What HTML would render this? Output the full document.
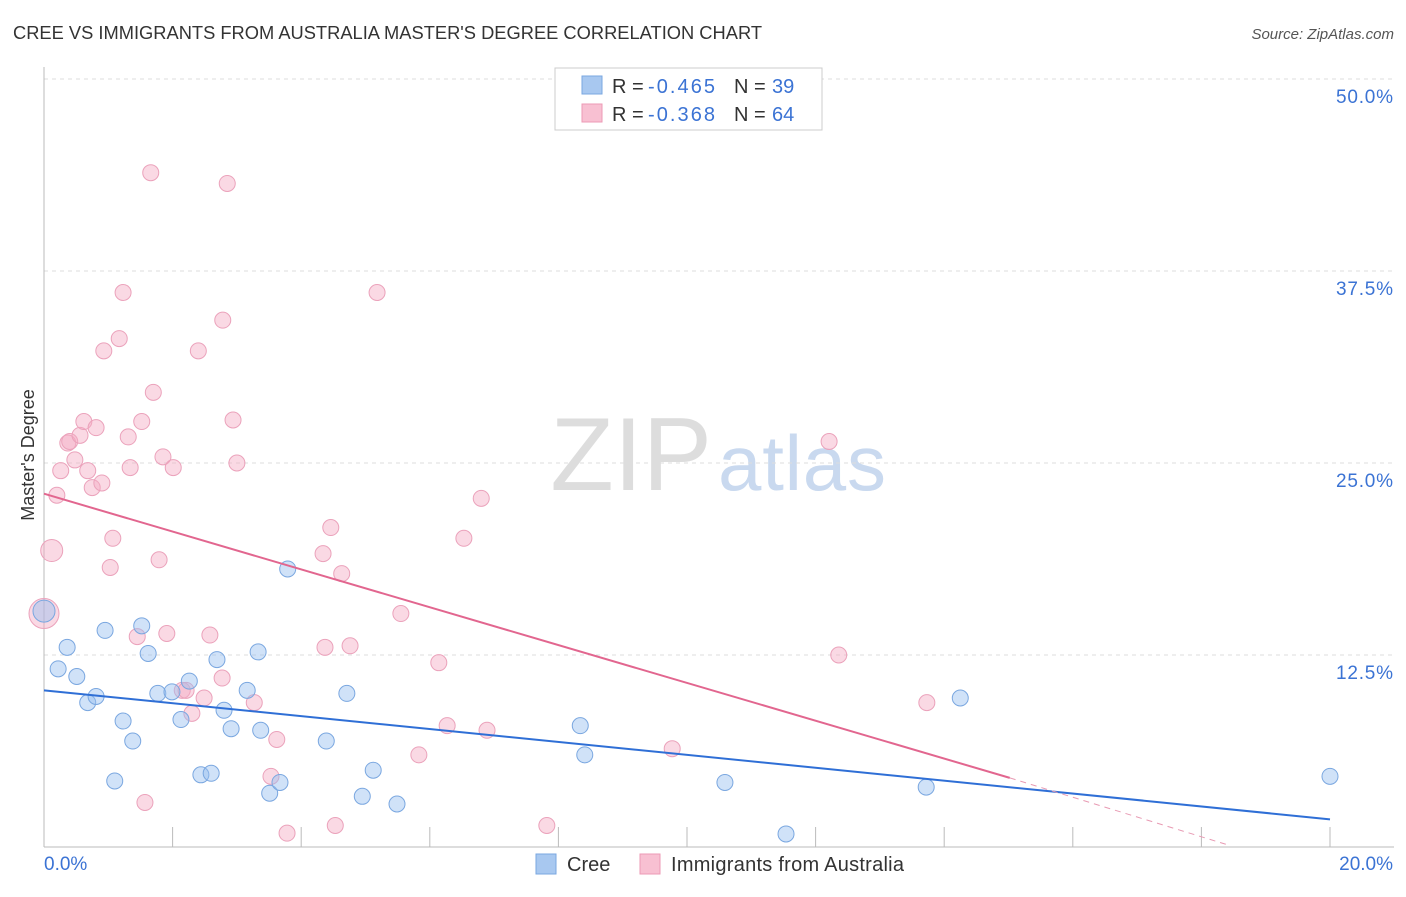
<!DOCTYPE html>
<html><head><meta charset="utf-8"><style>
body{margin:0;background:#fff;font-family:"Liberation Sans",sans-serif;}
svg text{font-family:"Liberation Sans",sans-serif;}
</style></head><body>
<svg id="chart" width="1406" height="892">
<text x="13" y="39" font-size="18" fill="#333" textLength="749" lengthAdjust="spacingAndGlyphs">CREE VS IMMIGRANTS FROM AUSTRALIA MASTER'S DEGREE CORRELATION CHART</text>
<text x="1394" y="39" font-size="15" fill="#555" font-style="italic" text-anchor="end">Source: ZipAtlas.com</text>
<text x="712" y="490" font-size="104" fill="#ddd" text-anchor="end" font-family="Liberation Serif">ZIP</text>
<text x="718" y="490" font-size="78" fill="#c9d9ef" textLength="168">atlas</text>
<g id="grid"></g>
<g id="axes"></g>
<g id="marks"></g>
<text transform="translate(34,455) rotate(-90)" font-size="18" fill="#333" text-anchor="middle">Master's Degree</text>
<g>
<rect x="555" y="68" width="267" height="62" fill="#fff" stroke="#ccc"/>
<rect x="582" y="76" width="20" height="18" fill="#a8c8f0" stroke="#7aa7e0"/>
<rect x="582" y="104" width="20" height="18" fill="#f8c0d2" stroke="#ec9ab5"/>
<text x="612" y="93" font-size="20" fill="#333">R = <tspan x="648" fill="#3b73d4" textLength="67">-0.465</tspan><tspan x="734">N = </tspan><tspan x="772" fill="#3b73d4">39</tspan></text>
<text x="612" y="121" font-size="20" fill="#333">R = <tspan x="648" fill="#3b73d4" textLength="67">-0.368</tspan><tspan x="734">N = </tspan><tspan x="772" fill="#3b73d4">64</tspan></text>
</g>
<g>
<rect x="536" y="854" width="20" height="20" fill="#a8c8f0" stroke="#7aa7e0"/>
<text x="567" y="871" font-size="20" fill="#333">Cree</text>
<rect x="640" y="854" width="20" height="20" fill="#f8c0d2" stroke="#ec9ab5"/>
<text x="671" y="871" font-size="20" fill="#333" textLength="233">Immigrants from Australia</text>
</g>
</svg>
<script>
const xTicks=[0,20];
const yTicks=[12.5,25,37.5,50];
const blueX=[0,0.36,0.22,0.51,0.68,0.81,0.95,1.23,1.38,1.10,1.52,1.62,1.77,1.99,2.13,2.26,2.44,2.60,2.69,2.80,2.91,3.16,3.33,3.37,3.51,3.67,3.79,4.39,4.71,4.95,5.12,5.49,8.34,8.41,10.59,11.54,13.72,14.25,20.0];
const blueY=[15.36,13.0,11.6,11.1,9.4,9.8,14.1,8.2,6.9,4.3,14.4,12.6,10.0,10.1,8.3,10.8,4.7,4.8,12.2,8.9,7.7,10.2,12.7,7.6,3.5,4.2,18.1,6.9,10.0,3.3,5.0,2.8,7.9,6.0,4.2,0.85,3.9,9.7,4.6];
const pinkX=[0,0.12,0.20,0.26,0.37,0.40,0.48,0.56,0.62,0.68,0.75,0.81,0.90,0.93,1.03,1.07,1.17,1.23,1.31,1.34,1.45,1.52,1.57,1.66,1.70,1.79,1.85,1.91,2.01,2.15,2.21,2.30,2.40,2.49,2.58,2.77,2.78,2.85,2.94,3.00,3.27,3.53,3.62,3.78,4.34,4.37,4.46,4.53,4.63,4.76,5.18,5.55,5.83,6.14,6.27,6.53,6.80,6.89,7.82,9.77,12.21,12.36,13.73];
const pinkY=[15.2,19.3,22.9,24.5,26.3,26.4,25.2,26.8,27.7,24.5,23.4,27.3,23.7,32.3,18.2,20.1,33.1,36.1,26.7,24.7,13.7,27.7,2.9,43.9,29.6,18.7,25.4,13.9,24.7,10.2,10.2,8.7,32.3,9.7,13.8,11.0,34.3,43.2,27.8,25.0,9.4,4.6,7.0,0.9,19.1,13.0,20.8,1.4,17.8,13.1,36.1,15.2,6.0,12.0,7.9,20.1,22.7,7.6,1.4,6.4,26.4,12.5,9.4];
const blueTrend=[10.2,1.8];
const pinkTrend=[23.0,4.5,0.1];
const pinkTrendX=[0,15.02,18.44];
const X=v=>44+v*64.3, Y=v=>847-v*15.36;
const NS="http://www.w3.org/2000/svg";
function mk(tag,attrs,parent){const e=document.createElementNS(NS,tag);for(const k in attrs)e.setAttribute(k,attrs[k]);document.getElementById(parent).appendChild(e);return e;}
yTicks.forEach(t=>{
 const l=mk('line',{x1:44,x2:1394,y1:Y(t),y2:Y(t),stroke:'#ddd','stroke-dasharray':'4,4'},'grid');
 
 
 const tx=mk('text',{x:1393,y:Y(t)+24,'font-size':19,fill:'#3b73d4','text-anchor':'end',textLength:57},'grid');
 tx.textContent=t.toFixed(1)+'%';
 
 
});
const ax=mk('line',{x1:44,x2:44,y1:67,y2:847,stroke:'#bbb'},'axes');


const bx=mk('line',{x1:44,x2:1394,y1:847,y2:847,stroke:'#bbb'},'axes');


for(let i=1;i<=10;i++){const t=mk('line',{x1:X(i*2),x2:X(i*2),y1:827,y2:847,stroke:'#bbb'},'axes');
 
 }
xTicks.forEach((t,i)=>{const tx=mk('text',{x:i?1393:44,y:870,'font-size':19,fill:'#3b73d4','text-anchor':i?'end':'start'},'axes');
 tx.textContent=t.toFixed(1)+'%';
 
 });
pinkX.forEach((v,i)=>{const c=mk('circle',{cx:X(v),cy:Y(pinkY[i]),r:i<2?(i==0?15:11):8,fill:'rgba(245,170,195,0.45)',stroke:'#eba2bb'},'marks');
 
 });
blueX.forEach((v,i)=>{const c=mk('circle',{cx:X(v),cy:Y(blueY[i]),r:i==0?11:8,fill:'rgba(150,190,240,0.45)',stroke:'#7aa7e0'},'marks');
 
 });
const bl=mk('line',{x1:X(0),y1:Y(blueTrend[0]),x2:X(20),y2:Y(blueTrend[1]),stroke:'#2f6fd6','stroke-width':2},'marks');


const pl=mk('line',{x1:X(pinkTrendX[0]),y1:Y(pinkTrend[0]),x2:X(pinkTrendX[1]),y2:Y(pinkTrend[1]),stroke:'#e2668f','stroke-width':2},'marks');


const pd=mk('line',{x1:X(pinkTrendX[1]),y1:Y(pinkTrend[1]),x2:X(pinkTrendX[2]),y2:Y(pinkTrend[2]),stroke:'#e89ab3','stroke-width':1,'stroke-dasharray':'6,5'},'marks');


</script>
</body></html>
